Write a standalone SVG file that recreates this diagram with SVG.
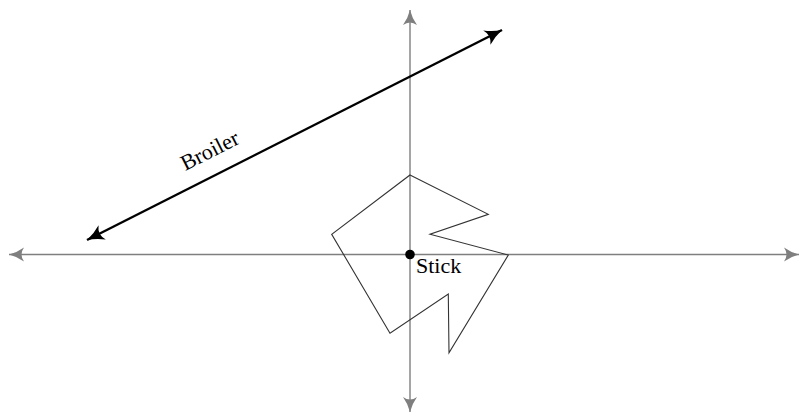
<svg xmlns="http://www.w3.org/2000/svg" width="800" height="416" viewBox="0 0 800 416">
<defs>
<style>
.axis{stroke:#7f7f7f;stroke-width:1.4;fill:none}
.shape{stroke:#333;stroke-width:1.1;fill:none;stroke-linejoin:miter}
.lbl{font-family:"Liberation Serif","Times New Roman",serif;font-size:22px;fill:#000}
.broiler{stroke:#000;stroke-width:2.4;fill:none}
</style>
<marker id="ga" viewBox="-16 -8 18 16" markerWidth="18" markerHeight="16" markerUnits="userSpaceOnUse" refX="0" refY="0" orient="auto-start-reverse">
<path d="M0,0 Q-8,-2 -15,-7 Q-10,0 -15,7 Q-8,2 0,0 Z" fill="#7f7f7f"/>
</marker>
<marker id="ba" viewBox="-18 -9 20 18" markerWidth="20" markerHeight="18" markerUnits="userSpaceOnUse" refX="0" refY="0" orient="auto-start-reverse">
<path d="M0,0 Q-9,-2.5 -17,-8 Q-11.5,0 -17,8 Q-9,2.5 0,0 Z" fill="#000"/>
</marker>
</defs>
<g id="connectors">
<line class="axis" x1="9" y1="254.5" x2="799" y2="254.5" marker-start="url(#ga)" marker-end="url(#ga)"/>
<line class="axis" x1="410" y1="10" x2="410" y2="412" marker-start="url(#ga)" marker-end="url(#ga)"/>
<line class="broiler" x1="87" y1="240" x2="502" y2="30" marker-start="url(#ba)" marker-end="url(#ba)"/>
</g>
<g id="broiler-label">
<text class="lbl" x="213" y="157" text-anchor="middle" transform="rotate(-26.8 213 157)">Broiler</text>
</g>
<g id="shape">
<polygon class="shape" points="410,175 488.3,214.3 430,234.3 508.3,255 449,352.7 448.3,294 390,333.3 331.7,234.3"/>
</g>
<g id="stick">
<circle cx="410" cy="254.5" r="4.8" fill="#000"/>
<text class="lbl" x="416" y="273">Stick</text>
</g>
</svg>
